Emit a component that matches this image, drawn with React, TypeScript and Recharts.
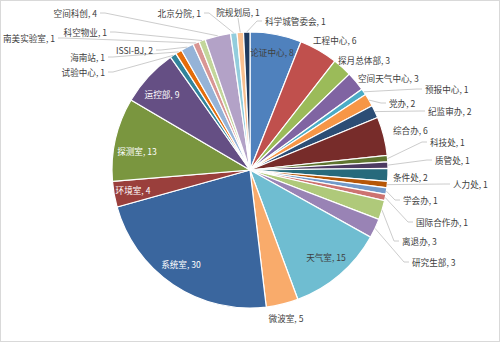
import { PieChart, Pie, Cell } from 'recharts';

// clockwise from 12 o'clock
const names = [
  '论证中心', '工程中心', '探月总体部', '空间天气中心', '预报中心', '党办', '纪监审办', '综合办',
  '科技处', '质管处', '条件处', '人力处', '学会办', '国际合作办', '离退办', '研究生部',
  '天气室', '微波室', '系统室', '环境室', '探测室', '运控部', '试验中心', '海南站',
  'ISSI-BJ', '南美实验室', '科空物业', '空间科创', '北京分院', '院规划局', '科学城管委会'
];
const counts = [
  8, 6, 3, 3, 1, 2, 2, 6,
  1, 1, 2, 1, 1, 1, 3, 3,
  15, 5, 30, 4, 13, 9, 1, 1,
  2, 1, 1, 4, 1, 1, 1
];

const COLORS = [
  '#4F81BD', '#C0504D', '#9BBB59', '#8064A2', '#4BACC6', '#F79646',
  '#2C4D75', '#772C2A', '#5F7530', '#4D3B62', '#276A7C', '#B65708',
  '#729ACA', '#CD7371', '#AFC97A', '#9983B5', '#6FBDD1', '#F9AB6B',
  '#3A669E', '#9A3F3C', '#7A963F', '#654F84', '#31849B', '#E46C0A',
  '#95B3D7', '#D99694', '#C3D69B', '#B3A2C7', '#93CDDD', '#FAC090',
  '#1F3A5F'
];

const data = names.map((name, i) => ({ name, value: counts[i] }));

// label placement: [x, y, anchor, leader line, white text]
type LabelPos = [number, number, 'start' | 'end' | 'middle', boolean, boolean];
const LABEL_POS: Record<string, LabelPos> = {
  '论证中心': [272, 52, 'middle', false, false],
  '工程中心': [313, 40, 'start', false, false],
  '探月总体部': [338, 60, 'start', false, false],
  '空间天气中心': [358, 78, 'start', false, false],
  '预报中心': [425, 89, 'start', true, false],
  '党办': [389, 103, 'start', true, false],
  '纪监审办': [428, 111, 'start', true, false],
  '综合办': [393, 130, 'start', false, false],
  '科技处': [430, 142, 'start', true, false],
  '质管处': [435, 160, 'start', true, false],
  '条件处': [393, 177, 'start', false, false],
  '人力处': [453, 184, 'start', true, false],
  '学会办': [403, 200, 'start', true, false],
  '国际合作办': [416, 222, 'start', true, false],
  '离退办': [402, 241, 'start', true, false],
  '研究生部': [412, 262, 'start', true, false],
  '天气室': [326, 257, 'middle', false, false],
  '微波室': [286, 318, 'middle', false, false],
  '系统室': [181, 264, 'middle', false, true],
  '环境室': [133, 190, 'middle', false, true],
  '探测室': [137, 151, 'middle', false, true],
  '运控部': [162, 94, 'middle', false, true],
  '试验中心': [105, 72, 'end', true, false],
  '海南站': [105, 57, 'end', true, false],
  'ISSI-BJ': [153, 50, 'end', true, false],
  '南美实验室': [55, 38, 'end', true, false],
  '科空物业': [107, 32, 'end', true, false],
  '空间科创': [97, 13, 'end', true, false],
  '北京分院': [201, 13, 'end', true, false],
  '院规划局': [238, 12, 'middle', true, false],
  '科学城管委会': [265, 21, 'start', true, false],
};

const RAD = Math.PI / 180;

const renderLabel = (props: any) => {
  const { cx, cy, midAngle, outerRadius, index } = props;
  const name = names[index];
  const pos = LABEL_POS[name];
  if (!pos) return null;
  const [x, y, anchor, line, white] = pos;
  let path = null;
  if (line) {
    const sx = cx + outerRadius * Math.cos(-midAngle * RAD);
    const sy = cy + outerRadius * Math.sin(-midAngle * RAD);
    let ex = x;
    let ey = y;
    let pts = '';
    if (anchor === 'start') {
      ex = x - 3;
      pts = `${sx},${sy} ${ex - 5},${ey} ${ex},${ey}`;
    } else if (anchor === 'end') {
      ex = x + 3;
      pts = `${sx},${sy} ${ex + 5},${ey} ${ex},${ey}`;
    } else {
      ey = y + 6;
      pts = `${sx},${sy} ${ex},${ey}`;
    }
    path = <polyline points={pts} fill="none" stroke="#BFBFBF" strokeWidth={0.8} />;
  }
  return (
    <g key={`lbl-${index}`}>
      {path}
      <text
        x={x}
        y={y}
        textAnchor={anchor}
        dominantBaseline="central"
        fill={white ? '#FFFFFF' : '#404040'}
        fontSize={8.6}
        fontFamily="'Noto Sans CJK SC', 'Noto Sans', sans-serif"
      >
        {`${name}, ${counts[index]}`}
      </text>
    </g>
  );
};

export default function App() {
  return (
    <div style={{ position: 'absolute', left: 0, top: 0, width: 500, height: 342, background: '#fff' }}>
      <PieChart width={500} height={342} margin={{ top: 0, right: 0, bottom: 0, left: 0 }}>
        <Pie
          data={data}
          dataKey="value"
          nameKey="name"
          cx={250}
          cy={170}
          outerRadius={138}
          startAngle={90}
          endAngle={-270}
          stroke="#FFFFFF"
          strokeWidth={1.2}
          label={renderLabel}
          labelLine={false}
          isAnimationActive={false}
        >
          {data.map((entry, index) => (
            <Cell key={`cell-${index}`} fill={COLORS[index % COLORS.length]} />
          ))}
        </Pie>
      </PieChart>
      <div
        style={{
          position: 'absolute',
          left: 0,
          top: 0,
          width: 500,
          height: 342,
          border: '1px solid #D9D9D9',
          boxSizing: 'border-box',
          pointerEvents: 'none',
        }}
      />
    </div>
  );
}
